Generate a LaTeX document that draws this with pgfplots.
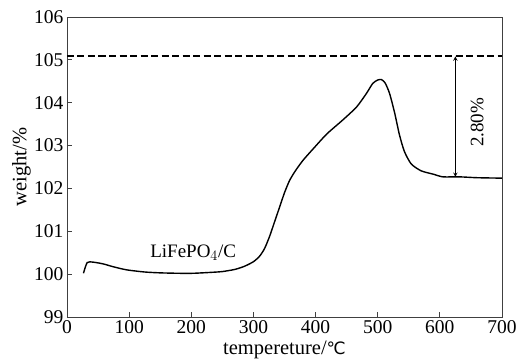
\documentclass[border=0pt]{standalone}
\usepackage{pgfplots}
\pgfplotsset{compat=1.18}
\usepackage{fontspec}
\setmainfont{Liberation Serif}
\newfontfamily\symfont{DejaVu Sans}
\begin{document}
\begin{tikzpicture}
\useasboundingbox (-67pt,-44pt) rectangle (452pt,317pt);
\begin{axis}[
  scale only axis, width=435pt, height=300pt,
  xmin=0, xmax=700, ymin=99, ymax=106,
  xtick={0,100,...,700}, ytick={99,100,...,106},
  xtick pos=bottom, ytick pos=left, tick align=inside,
  major tick length=5pt,
  axis line style={line width=0.9pt, black!75}, tick style={line width=0.9pt, black!75},
  /pgf/number format/assume math mode=true,
  ticklabel style={font=\fontsize{19.5}{22}\selectfont},
  label style={font=\fontsize{20.5}{23}\selectfont},
  xlabel={tempereture/{\symfont\fontsize{17}{20}\selectfont ℃}},
  ylabel={weight/\%},
  xlabel style={at={(axis description cs:0.5,0)}, anchor=north, yshift=-20pt},
  ylabel style={at={(axis description cs:-0.075,0.5)}, anchor=south},
]
\addplot[black, line width=1.4pt, smooth, tension=0.4] coordinates {
(26.5,100.02) (32.5,100.27) (42,100.28) (58,100.24) (75,100.17) (96,100.10)
(125,100.05) (150,100.03) (180,100.02) (203,100.02) (230,100.04) (250,100.06)
(270,100.11) (285,100.18) (300,100.29) (310,100.42) (318,100.60) (326,100.88)
(334,101.22) (342,101.56) (350,101.90) (358,102.18) (367,102.40) (380,102.66)
(399,102.97) (418,103.27) (444,103.60) (466,103.90) (482,104.22) (492,104.45)
(500,104.53) (506,104.54) (512,104.46) (519,104.22) (527,103.78) (535,103.25)
(543,102.86) (554,102.57) (570,102.41) (590,102.33) (605,102.27) (632,102.27)
(660,102.25) (700,102.24)
};
\addplot[black, line width=2pt, dash pattern=on 7pt off 3.5pt] coordinates {(0,105.08) (700,105.08)};
\draw[<->, >=stealth, line width=0.9pt] (axis cs:625,105.08) -- (axis cs:625,102.27);
\node[rotate=90, font=\fontsize{19}{22}\selectfont] at (axis cs:660,103.54) {2.80\%};
\node[font=\fontsize{19}{22}\selectfont] at (axis cs:203,100.5) {LiFePO$_4$/C};
\end{axis}
\end{tikzpicture}
\end{document}
